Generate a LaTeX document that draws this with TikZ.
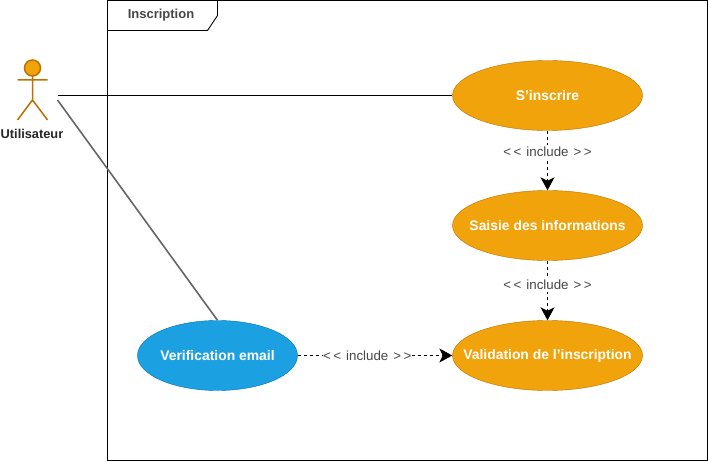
\documentclass[tikz,border=0pt]{standalone}
\usepackage{fontspec}
\setmainfont{Liberation Sans}
\usepackage{xcolor}
\usepackage{tikz}
\usetikzlibrary{arrows.meta, positioning, shapes.geometric}
\definecolor{caseorange}{RGB}{240, 163, 10}
\definecolor{caseedge}{RGB}{189, 112, 0}
\definecolor{caseblue}{RGB}{27, 161, 226}
\definecolor{blueedge}{RGB}{0, 110, 175}
\definecolor{labelgray}{RGB}{70, 70, 70}
\newcommand{\caselabel}[1]{\makebox[0pt]{#1}}
\newcommand{\includelabel}{<\hspace{2.5pt}<\hspace{5pt}include\hspace{5pt}>\hspace{2.5pt}>}
\tikzset{
    usecase/.style={ellipse, draw=caseedge, fill=caseorange, text=white, inner sep=0pt,
        minimum width=190pt, minimum height=70pt, font=\fontsize{13.9}{16}\selectfont\bfseries},
    include/.style={fill=white, text=labelgray, inner xsep=0.5pt, inner ysep=2pt, font=\fontsize{13.3}{15}\selectfont},
    includeline/.style={->, black, line width=0.9pt, dash pattern=on 3pt off 3pt}
}

\begin{document}
\begin{tikzpicture}[x=1pt, y=-1pt, >={Stealth[length=13pt, width=14pt, inset=3.5pt]}]
    \useasboundingbox (0,0) rectangle (708,462);
    % frame
    \draw[line width=0.9pt] (107.5,0.5) rectangle (707.5,460.5);
    \draw[line width=0.9pt] (107.5,30.5) -- (207.5,30.5) -- (217.5,15.5) -- (217.5,0.5);
    \node[text=labelgray, font=\fontsize{13}{15}\selectfont\bfseries] (frametitle) at (161,15.5) {Inscription};

    % actor
    \draw[caseedge, line width=1.5pt, fill=caseorange] (32.5,68) circle (8);
    \draw[caseedge, line width=1.5pt] (32.5,76) -- (32.5,100) (17.5,80) -- (47.5,80)
        (17.5,120) -- (32.5,100) -- (47.5,120);
    \node[text=black!85, font=\fontsize{12.8}{15}\selectfont\bfseries] (actorlabel) at (32,133.5) {Utilisateur};
    \coordinate (actortop) at (57.5,95.5);
    \coordinate (actorlow) at (57.5,100);

    % use cases
    \node[usecase] (inscrire) at (547.5,95.5) {\caselabel{S'inscrire}};
    \node[usecase] (saisie) at (547.5,225.5) {\caselabel{Saisie des informations}};
    \node[usecase] (validation) at (547.5,355.5) {\caselabel{Validation de l'inscription}};
    \node[usecase, draw=blueedge, fill=caseblue, minimum width=160pt] (verification) at (217.5,355.5) {\caselabel{Verification email}};

    % links
    \draw[line width=0.9pt] (actortop) -- (inscrire);
    \draw[black!60, line width=1.6pt] (actorlow) -- (verification.north);
    \draw[includeline] (inscrire) -- (saisie) node[include, pos=0.35] (inc1) {\includelabel};
    \draw[includeline] (saisie) -- (validation) node[include, pos=0.41] (inc2) {\includelabel};
    \draw[includeline] (verification) -- (validation) node[include, pos=0.45] (inc3) {\includelabel};
\end{tikzpicture}
\end{document}
